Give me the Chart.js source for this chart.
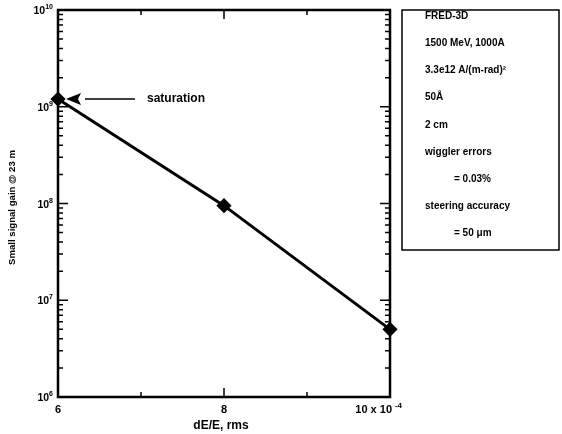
<!DOCTYPE html>
<html>
<head>
<meta charset="utf-8">
<script src="https://cdn.jsdelivr.net/npm/chart.js@4/dist/chart.umd.min.js"></script>
<style>
  html, body { margin: 0; padding: 0; background: #fff; }
  #wrap { width: 562px; height: 434px; }
</style>
</head>
<body>
<div id="wrap"><canvas id="gain"></canvas></div>
<script>
// dE/E rms (x 10^-4) vs small signal gain
var spread = [6, 8, 10];
var gain = [1.2e9, 9.5e7, 5e6];

var xTickLabels = [[6, '6'], [8, '8']];
var yDecades = [6, 7, 8, 9, 10];

// [text, indented?]
var infoLines = [
	['FRED-3D', false],
	['1500 MeV, 1000A', false],
	['3.3e12 A/(m-rad)\u00B2', false],
	['50\u00C5', false],
	['2 cm', false],
	['wiggler errors', false],
	['= 0.03%', true],
	['steering accuracy', false],
	['= 50 \u03BCm', true]
];

function font(px) {
	return 'bold ' + px + 'px "Liberation Sans", Arial, sans-serif';
}

var framePlugin = {
	id: 'frame',
	afterDatasetsDraw: function(chart) {
		var ctx = chart.ctx;
		var a = chart.chartArea;
		var xs = chart.scales.x;
		var ys = chart.scales.y;
		ctx.save();
		ctx.strokeStyle = '#000';
		ctx.fillStyle = '#000';

		// plot frame
		ctx.lineWidth = 2.5;
		ctx.strokeRect(a.left, a.top, a.right - a.left, a.bottom - a.top);

		// y ticks, inward on both sides
		ctx.lineWidth = 1.5;
		yDecades.forEach(function(d) {
			if (d == 10) return;
			for (var m = 1; m <= 9; m++) {
				var y = ys.getPixelForValue(m * Math.pow(10, d));
				var len = (m == 1) ? 10 : 5;
				ctx.beginPath();
				ctx.moveTo(a.left, y); ctx.lineTo(a.left + len, y);
				ctx.moveTo(a.right, y); ctx.lineTo(a.right - len, y);
				ctx.stroke();
			}
		});

		// x ticks, inward top and bottom
		[7, 8, 9].forEach(function(v) {
			var x = xs.getPixelForValue(v);
			var len = (v == 8) ? 9 : 5;
			ctx.beginPath();
			ctx.moveTo(x, a.bottom); ctx.lineTo(x, a.bottom - len);
			ctx.moveTo(x, a.top); ctx.lineTo(x, a.top + len);
			ctx.stroke();
		});

		// y tick labels 10^n
		ctx.textBaseline = 'alphabetic';
		yDecades.forEach(function(d) {
			var y = ys.getPixelForValue(Math.pow(10, d));
			ctx.font = font(7);
			var ew = ctx.measureText(String(d)).width;
			ctx.textAlign = 'right';
			ctx.fillText(String(d), a.left - 5, y - 1);
			ctx.font = font(10.5);
			ctx.fillText('10', a.left - 5 - ew, y + 4);
		});

		// x tick labels
		ctx.font = font(11);
		ctx.textAlign = 'center';
		xTickLabels.forEach(function(t) {
			ctx.fillText(t[1], xs.getPixelForValue(t[0]), a.bottom + 16);
		});
		var x10 = xs.getPixelForValue(10);
		ctx.textAlign = 'right';
		ctx.font = font(8);
		ctx.fillText('-4', x10 + 12, a.bottom + 11);
		ctx.font = font(11);
		ctx.fillText('10 x 10', x10 + 2, a.bottom + 16);

		// axis titles
		ctx.font = font(12);
		ctx.textAlign = 'center';
		ctx.fillText('dE/E, rms', xs.getPixelForValue(8) - 3, a.bottom + 32);
		ctx.font = font(9.6);
		ctx.save();
		ctx.translate(15, (a.top + a.bottom) / 2 + 4);
		ctx.rotate(-Math.PI / 2);
		ctx.fillText('Small signal gain @ 23 m', 0, 0);
		ctx.restore();

		// saturation arrow
		var px = xs.getPixelForValue(spread[0]);
		var py = ys.getPixelForValue(gain[0]);
		ctx.beginPath();
		ctx.moveTo(px + 8, py);
		ctx.lineTo(px + 23, py - 6);
		ctx.lineTo(px + 20, py);
		ctx.lineTo(px + 23, py + 6);
		ctx.closePath();
		ctx.fill();
		ctx.lineWidth = 1.5;
		ctx.beginPath();
		ctx.moveTo(px + 27, py);
		ctx.lineTo(px + 77, py);
		ctx.stroke();
		ctx.font = font(12);
		ctx.textAlign = 'left';
		ctx.textBaseline = 'middle';
		ctx.fillText('saturation', px + 89, py);

		// info box
		var bx = 402, by = a.top, bw = 157, bh = 240;
		ctx.lineWidth = 1.5;
		ctx.strokeRect(bx, by, bw, bh);
		ctx.font = font(10);
		infoLines.forEach(function(l, i) {
			ctx.fillText(l[0], bx + (l[1] ? 52 : 23), by + 6 + i * 27.2);
		});

		ctx.restore();
	}
};

new Chart(document.getElementById('gain'), {
	type: 'line',
	data: {
		datasets: [{
			data: spread.map(function(v, i) { return { x: v, y: gain[i] }; }),
			borderColor: '#000',
			backgroundColor: '#000',
			borderWidth: 3,
			pointStyle: 'rectRot',
			pointRadius: 5.5,
			pointBackgroundColor: '#000',
			pointBorderColor: '#000',
			tension: 0,
			clip: false
		}]
	},
	options: {
		responsive: true,
		maintainAspectRatio: false,
		animation: false,
		layout: {
			padding: { left: 58, right: 172, top: 10, bottom: 37 }
		},
		plugins: {
			legend: { display: false },
			tooltip: { enabled: false }
		},
		scales: {
			x: { type: 'linear', min: 6, max: 10, display: false },
			y: { type: 'logarithmic', min: 1e6, max: 1e10, display: false }
		}
	},
	plugins: [framePlugin]
});
</script>
</body>
</html>
